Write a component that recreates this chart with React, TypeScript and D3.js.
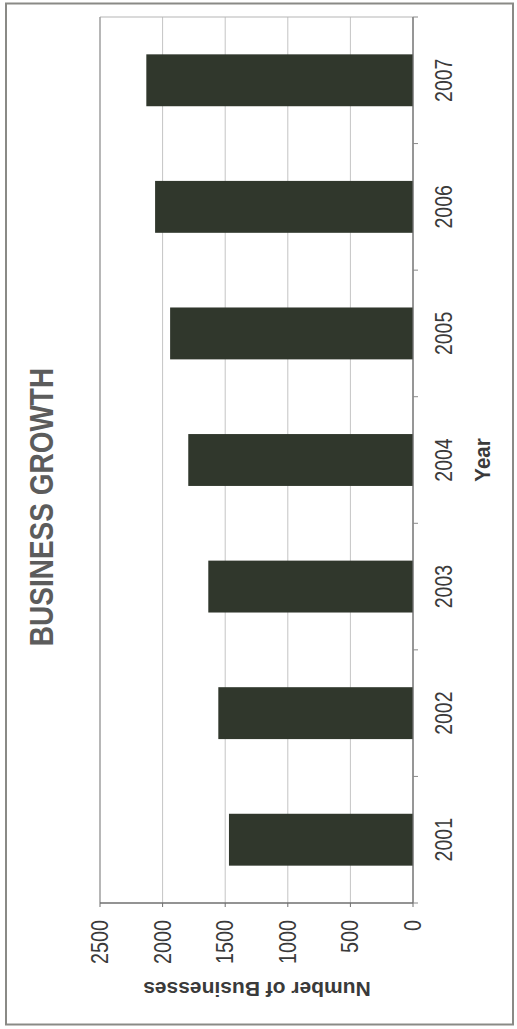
import React from "react";
import * as d3 from "d3";

const years = ["2001", "2002", "2003", "2004", "2005", "2006", "2007"];
const businesses = [1470, 1555, 1635, 1795, 1940, 2060, 2130];
const valueTicks = [0, 500, 1000, 1500, 2000, 2500];

const title = "BUSINESS GROWTH";
const xTitle = "Year";
const yTitle = "Number of Businesses";

// Chart is drawn as a normal column chart in an unrotated frame (W0 x H0),
// then rotated 90° counter-clockwise onto the 517 x 1029 page.
const SW = 517;
const SH = 1029;
const W0 = SH;
const H0 = SW;

export default function App() {
  const x = d3
    .scaleBand<string>()
    .domain(years)
    .range([W0 - 903, W0 - 17])
    .paddingInner(0.59)
    .paddingOuter(0.295);
  const xOuter = d3.scaleBand<string>().domain(years).range([W0 - 903, W0 - 17]);
  const y = d3.scaleLinear().domain([0, 2500]).range([413, 100]);

  const plotLeft = W0 - 903;
  const plotRight = W0 - 17;
  const plotTop = y(2500);
  const plotBottom = y(0);

  const boundaries = years.map((yr) => xOuter(yr)!).concat([plotRight]);

  return (
    <svg
      width={SW}
      height={SH}
      style={{ position: "absolute", left: 0, top: 0, background: "#fff" }}
      fontFamily="Arial, 'Liberation Sans', Helvetica, sans-serif"
    >
      <rect x={0} y={0} width={SW} height={SH} fill="#fff" />
      {/* outer frame */}
      <rect x={6} y={3.5} width={507} height={1021} fill="none" stroke="#8a8a86" strokeWidth={2} />
      <g transform={`translate(0, ${W0}) rotate(-90)`}>
        {/* gridlines */}
        {valueTicks.map((t) => (
          <line
            key={"g" + t}
            x1={plotLeft}
            x2={plotRight}
            y1={y(t)}
            y2={y(t)}
            stroke="#c4c4c4"
            strokeWidth={1}
          />
        ))}
        {/* plot frame right & top */}
        <line x1={plotRight} x2={plotRight} y1={plotTop} y2={plotBottom} stroke="#b5b5b5" strokeWidth={1.2} />
        <line x1={plotLeft} x2={plotRight} y1={plotTop} y2={plotTop} stroke="#9a9a9a" strokeWidth={1.2} />
        {/* bars */}
        {years.map((yr, i) => (
          <rect
            key={yr}
            x={x(yr)!}
            width={x.bandwidth()}
            y={y(businesses[i])}
            height={y(0) - y(businesses[i])}
            fill="#30372c"
          />
        ))}
        {/* category axis */}
        <line x1={plotLeft} x2={plotRight} y1={plotBottom} y2={plotBottom} stroke="#6f6f6f" strokeWidth={1.3} />
        {boundaries.map((b, i) => (
          <line key={"bt" + i} x1={b} x2={b} y1={plotBottom} y2={plotBottom + 5} stroke="#8a8a8a" strokeWidth={1} />
        ))}
        {years.map((yr) => (
          <text
            key={"yl" + yr}
            transform={`translate(${xOuter(yr)! + xOuter.bandwidth() / 2}, 444) scale(1, 1.18)`}
            textAnchor="middle"
            dominantBaseline="central"
            fontSize={19.5}
            fill="#3a3a3a"
          >
            {yr}
          </text>
        ))}
        <text
          transform={`translate(${W0 - 460}, 483) scale(1, 1.08)`}
          textAnchor="middle"
          dominantBaseline="central"
          fontSize={20.5}
          fontWeight="bold"
          fill="#3a3a3a"
        >
          {xTitle}
        </text>
        {/* value axis */}
        <line x1={plotLeft} x2={plotLeft} y1={plotTop} y2={plotBottom} stroke="#6f6f6f" strokeWidth={1.3} />
        {valueTicks.map((t) => (
          <line key={"vt" + t} x1={plotLeft - 4} x2={plotLeft} y1={y(t)} y2={y(t)} stroke="#6f6f6f" strokeWidth={1} />
        ))}
        {valueTicks.map((t) => (
          <text
            key={"vl" + t}
            transform={`translate(${W0 - 920}, ${y(t)}) scale(1, 1.18)`}
            textAnchor="end"
            dominantBaseline="central"
            fontSize={19.8}
            fill="#3a3a3a"
          >
            {t}
          </text>
        ))}
        <text
          transform={`translate(${W0 - 989}, 257) rotate(-90)`}
          textAnchor="middle"
          dominantBaseline="central"
          fontSize={21}
          fontWeight="bold"
          fill="#3a3a3a"
        >
          {yTitle}
        </text>
        {/* title */}
        <text
          transform={`translate(${W0 - 507}, 41) scale(1, 1.18)`}
          textAnchor="middle"
          dominantBaseline="central"
          fontSize={28}
          fontWeight="bold"
          fill="#5c5c5c"
        >
          {title}
        </text>
      </g>
    </svg>
  );
}
